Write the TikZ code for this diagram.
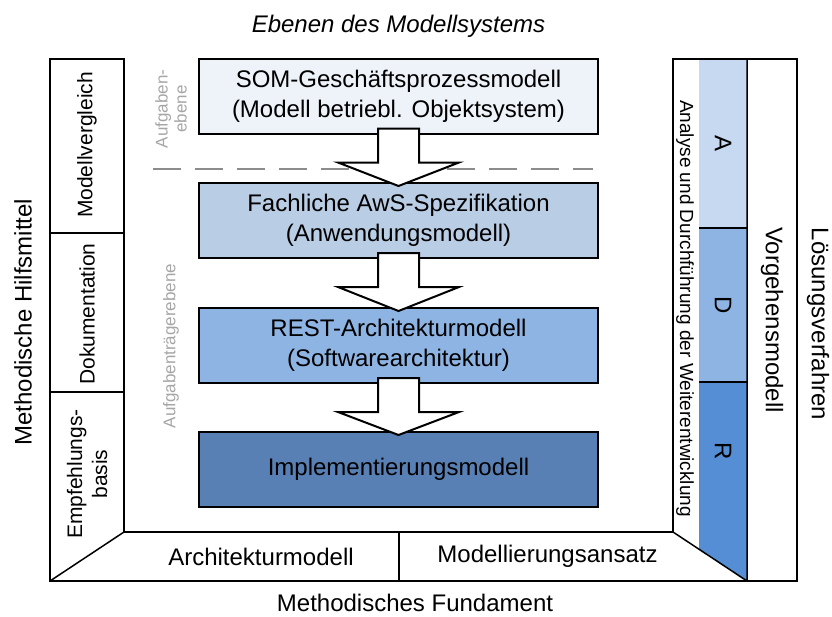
\documentclass[tikz,border=0pt]{standalone}
\usepackage{fontspec}
\setmainfont{Liberation Sans}
\usepackage{xcolor}
\usepackage{tikz}
\usetikzlibrary{calc}
\definecolor{somfill}{HTML}{EEF2F9}
\definecolor{fachfill}{HTML}{B9CDE5}
\definecolor{restfill}{HTML}{8EB4E3}
\definecolor{implfill}{HTML}{5880B4}
\definecolor{colA}{HTML}{C6D9F1}
\definecolor{colD}{HTML}{8EB4E3}
\definecolor{colR}{HTML}{558ED5}
\definecolor{labelgray}{HTML}{A6A6A6}
\definecolor{dashgray}{HTML}{8C8C8C}

\begin{document}
\begin{tikzpicture}[x=1pt,y=-1pt,line width=1.5pt,
  modelbox/.style={draw=black,line width=2pt,minimum width=399pt,minimum height=75pt,
    align=center,font=\fontsize{24}{30}\selectfont},
  blockarr/.style={draw=black,fill=white,line width=2pt,line join=miter},
  frametext/.style={align=center,font=\fontsize{24}{28}\selectfont},
  coltext/.style={align=center,font=\fontsize{21}{25}\selectfont},
  graytext/.style={text=labelgray,align=center,font=\fontsize{17}{19}\selectfont}]
  \useasboundingbox (0,0) rectangle (832,616);
  % Spalten rechts
  \fill[colA] (699,59) rectangle (747,228);
  \fill[colD] (699,228) rectangle (747,382);
  \fill[colR] (699,382) -- (747,382) -- (747,581) -- (699,549.6) -- cycle;
  \draw (699,228) -- (747,228) (699,382) -- (747,382);
  % Rahmen
  \draw (124,532) -- (124,59) -- (50,59) -- (50,581) -- (797,581) -- (797,59) -- (673,59) -- (673,532) -- cycle;
  \draw (50,581) -- (124,532) (673,532) -- (747,581) (747,59) -- (747,581);
  \draw (50,233) -- (124,233) (50,392) -- (124,392) (399,532) -- (399,581);
  \draw[dashgray,line width=2pt,dash pattern=on 28pt off 14pt] (153,169) -- (593,169);
  % Modelle
  \node[modelbox,fill=somfill] (som) at (398.5,96) {SOM-Geschäftsprozessmodell\\(Modell betriebl. Objektsystem)};
  \node[modelbox,fill=fachfill] (fach) at (398.5,220.5) {Fachliche AwS-Spezifikation\\(Anwendungsmodell)};
  \node[modelbox,fill=restfill] (rest) at (398.5,345.5) {REST-Architekturmodell\\(Softwarearchitektur)};
  \node[modelbox,fill=implfill] (impl) at (398.5,469.5) {Implementierungsmodell};
  \foreach \a/\b in {som/fach,fach/rest,rest/impl}
    \draw[blockarr] ($(\a.south)+(-20.5,-6)$) -- ++(0,34) -- ++(-40,0) -- ($(\b.north)+(0,4)$)
      -- ($(\a.south)+(60.5,28)$) -- ++(-40,0) -- ($(\a.south)+(20.5,-6)$) -- cycle;
  % Beschriftungen
  \node[frametext,anchor=base] (title) at (398.5,32) {\itshape Ebenen des Modellsystems};
  \node[frametext,anchor=base] (fund) at (415,611) {Methodisches Fundament};
  \node[frametext,rotate=90] (hilf) at (23,322) {Methodische Hilfsmittel};
  \node[frametext,rotate=-90] (loes) at (818,324) {Lösungsverfahren};
  \node[coltext,rotate=90] (mv) at (87,145) {Modellvergleich};
  \node[coltext,rotate=90] (dok) at (87,314) {Dokumentation};
  \node[coltext,rotate=90] (emp) at (87,474) {Empfehlungs-\\basis};
  \node[frametext] (arch) at (261,557) {Architekturmodell};
  \node[frametext] (ansatz) at (547.5,556) {Modellierungsansatz};
  \node[frametext,rotate=-90] (vorg) at (772,320) {Vorgehensmodell};
  \node[frametext,rotate=-90,font=\fontsize{19}{23}\selectfont] (adw) at (685,308.5) {Analyse und Durchführung der Weiterentwicklung};
  \node[frametext,rotate=-90] (pa) at (723,143.5) {A};
  \node[frametext,rotate=-90] (pd) at (723,305) {D};
  \node[frametext,rotate=-90] (pr) at (723,451) {R};
  \node[graytext,rotate=90] (aeb) at (171,109) {Aufgaben-\\ebene};
  \node[graytext,rotate=90] (atb) at (171,346) {Aufgabenträgerebene};
\end{tikzpicture}
\end{document}
